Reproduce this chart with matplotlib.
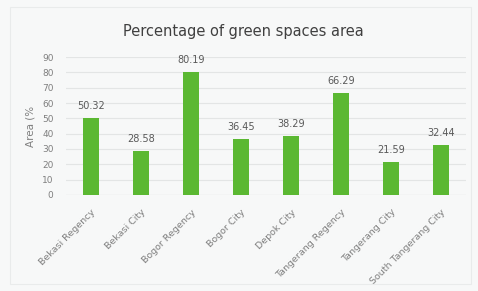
import matplotlib
matplotlib.use('Agg')
import matplotlib.pyplot as plt
from matplotlib.patches import Rectangle

regions = ['Bekasi Regency', 'Bekasi City', 'Bogor Regency', 'Bogor City',
           'Depok City', 'Tangerang Regency', 'Tangerang City', 'South Tangerang City']
green_pct = [50.32, 28.58, 80.19, 36.45, 38.29, 66.29, 21.59, 32.44]
value_labels = ['50.32', '28.58', '80.19', '36.45', '38.29', '66.29', '21.59', '32.44']
y_ticks = [0, 10, 20, 30, 40, 50, 60, 70, 80, 90]

bg = '#f7f8f8'
grey = '#7f7f7f'

fig = plt.figure(figsize=(4.78, 2.91), dpi=100, facecolor=bg)
ax = fig.add_axes([0.138, 0.33, 0.837, 0.474], facecolor=bg)

# faint outer chart frame
fig.patches.append(Rectangle((0.02, 0.025), 0.965, 0.95, transform=fig.transFigure,
                             fill=False, edgecolor='#e9ebeb', linewidth=0.8))

x = list(range(len(regions)))
ax.bar(x, green_pct, width=0.31, color='#5bb832', zorder=3)

for xi, v, lab in zip(x, green_pct, value_labels):
    ax.annotate(lab, (xi, v), xytext=(0, 5), textcoords='offset points',
                ha='center', va='bottom', fontsize=7, color='#595959')

ax.set_xlim(-0.5, len(regions) - 0.5)
ax.set_ylim(0, 90)
ax.set_yticks(y_ticks)
ax.set_yticklabels([str(t) for t in y_ticks], fontsize=6.5, color=grey)
ax.set_xticks(x)
ax.set_xticklabels(regions, rotation=45, ha='right', rotation_mode='anchor',
                   fontsize=6.8, color=grey)
ax.tick_params(axis='y', length=0, pad=9)
ax.tick_params(axis='x', length=0, pad=9)

ax.grid(axis='y', color='#e3e5e5', linewidth=0.8, zorder=0)
for s in ax.spines.values():
    s.set_visible(False)
ax.axhline(0, color='#dcdede', linewidth=0.8, zorder=2)

ax.set_ylabel('Area (%', fontsize=7.5, color=grey, labelpad=5)
fig.text(0.51, 0.893, 'Percentage of green spaces area', ha='center', va='center',
         fontsize=10.5, color='#404040')

fig.savefig('out.png', dpi=100, facecolor=bg)
